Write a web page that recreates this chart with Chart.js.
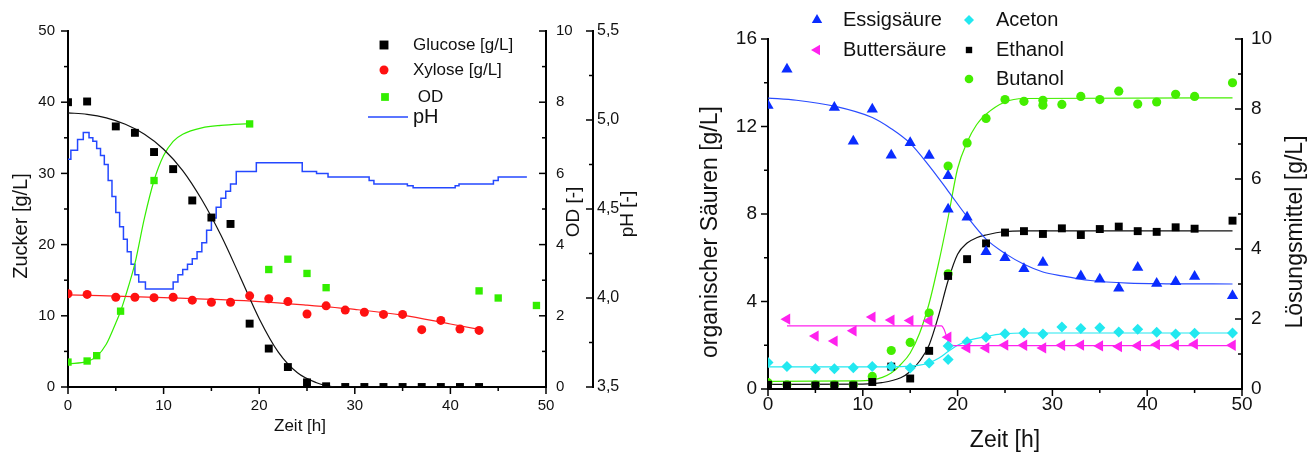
<!DOCTYPE html>
<html>
<head>
<meta charset="utf-8">
<script src="https://cdn.jsdelivr.net/npm/chart.js@4.4.0/dist/chart.umd.min.js"></script>
<style>
  body { margin: 0; background: #fff; }
  .box { position: absolute; top: 0; height: 455px; }
</style>
</head>
<body>
<div class="box" style="left:0;width:650px"><canvas id="zucker"></canvas></div>
<div class="box" style="left:660px;width:649px"><canvas id="produkte"></canvas></div>
<script>
// ---- left chart: Zucker / OD / pH ----
var glucT = [0, 2, 5, 7, 9, 11, 13, 15, 17, 19, 21, 23, 25, 27, 29, 31, 33, 35, 37, 39, 41, 43];
var glucV = [40.0, 40.1, 36.6, 35.7, 33.0, 30.6, 26.2, 23.8, 22.9, 8.9, 5.4, 2.8, 0.65, 0.1, 0, 0, 0, 0, 0, 0, 0, 0];
var glucFitT = [0, 2, 4, 6, 8, 10, 12, 14, 16, 18, 20, 22, 24, 26, 27, 28, 43];
var glucFitV = [38.5, 38.3, 37.8, 36.9, 35.5, 33.4, 30.4, 26.3, 21.3, 15.5, 9.6, 4.9, 2.0, 0.6, 0.2, 0, 0];

var xylT = [0, 2, 5, 7, 9, 11, 13, 15, 17, 19, 21, 23, 25, 27, 29, 31, 33, 35, 37, 39, 41, 43];
var xylV = [13.1, 13.0, 12.6, 12.6, 12.55, 12.6, 12.2, 11.9, 11.9, 12.8, 12.4, 12.0, 10.25, 11.4, 10.8, 10.5, 10.2, 10.2, 8.05, 9.35, 8.15, 7.95];
var xylFitT = [0, 10, 20, 25, 30, 35, 40, 43];
var xylFitV = [12.95, 12.55, 12.0, 11.5, 10.9, 10.1, 8.85, 8.1];

var odT = [0, 2, 3, 5.5, 9, 19, 21, 23, 25, 27, 43, 45, 49];
var odV = [0.70, 0.73, 0.88, 2.13, 5.8, 7.39, 3.3, 3.59, 3.19, 2.79, 2.70, 2.5, 2.29];
var odFitT = [0, 2, 3, 4, 5, 5.5, 6, 7, 8, 9, 10, 11, 12, 14, 16, 19];
var odFitV = [0.65, 0.72, 0.86, 1.2, 1.8, 2.13, 2.54, 3.47, 4.75, 5.8, 6.5, 6.9, 7.1, 7.28, 7.35, 7.4];

var phT = [0, 0.3, 1.0, 1.6, 2.2, 2.6, 3.0, 3.4, 3.8, 4.2, 4.6, 5.0, 5.4, 5.8, 6.2, 6.6, 7.0, 7.4, 8.1,
  11.0, 11.5, 12.0, 12.5, 13.0, 13.5, 14.0, 14.5, 15.0, 15.5, 16.0, 16.5, 17.0, 17.6, 19.7,
  24.5, 26.0, 27.2, 31.5, 32.0, 35.5, 36.1, 40.5, 40.9, 44.5, 45.0, 48.0];
var phV = [4.78, 4.83, 4.89, 4.93, 4.90, 4.88, 4.84, 4.80, 4.75, 4.66, 4.57, 4.48, 4.40, 4.33, 4.26, 4.19, 4.13, 4.09, 4.05,
  4.09, 4.13, 4.16, 4.19, 4.22, 4.26, 4.31, 4.38, 4.45, 4.51, 4.56, 4.60, 4.64, 4.71, 4.76,
  4.71, 4.70, 4.68, 4.66, 4.64, 4.63, 4.62, 4.63, 4.64, 4.66, 4.68, 4.68];

// ---- right chart: Saeuren / Loesungsmittel ----
var essigT = [0, 2, 7, 9, 11, 13, 15, 17, 19, 19, 21, 23, 25, 27, 29, 33, 35, 37, 39, 41, 43, 45, 49];
var essigV = [12.96, 14.62, 12.87, 11.33, 12.79, 10.69, 11.26, 10.68, 9.75, 8.22, 7.85, 6.28, 6.0, 5.5, 5.78, 5.17, 5.02, 4.61, 5.55, 4.82, 4.9, 5.14, 4.26];
var essigFitT = [0, 3, 7, 11, 13, 15, 17, 19, 21, 23, 25, 27, 29, 31, 34, 38, 42, 49];
var essigFitV = [13.3, 13.2, 12.93, 12.41, 11.9, 11.23, 10.2, 9.05, 7.88, 6.85, 6.2, 5.7, 5.35, 5.17, 4.96, 4.84, 4.81, 4.8];

var butterT = [2, 5, 7, 9, 11, 13, 15, 17, 19, 21, 23, 25, 27, 29, 31, 33, 35, 37, 39, 41, 43, 45, 49];
var butterV = [3.19, 2.42, 2.19, 2.66, 3.29, 3.15, 3.13, 3.12, 2.37, 1.88, 1.88, 2.01, 2.0, 1.88, 2.0, 2.01, 1.97, 1.94, 1.98, 2.03, 2.01, 2.05, 2.0];
var butterFitT = [2, 18.3, 18.6, 19.0, 19.6, 49];
var butterFitV = [2.89, 2.89, 2.7, 2.2, 1.98, 1.98];

var acetonT = [0, 2, 5, 7, 9, 11, 13, 15, 17, 19, 19, 21, 23, 25, 27, 29, 31, 33, 35, 37, 39, 41, 43, 45, 49];
var acetonV = [0.76, 0.64, 0.58, 0.58, 0.61, 0.64, 0.64, 0.6, 0.74, 0.84, 1.23, 1.35, 1.48, 1.58, 1.6, 1.57, 1.77, 1.73, 1.75, 1.63, 1.71, 1.62, 1.57, 1.59, 1.6];
var acetonFitT = [0, 5, 10, 14, 16, 17, 18, 19, 20, 21, 23, 25, 27, 49];
var acetonFitV = [0.63, 0.63, 0.63, 0.64, 0.68, 0.75, 0.88, 1.07, 1.25, 1.37, 1.5, 1.58, 1.6, 1.6];

var ethanolT = [0, 2, 5, 7, 9, 11, 13, 15, 17, 19, 21, 23, 25, 27, 29, 31, 33, 35, 37, 39, 41, 43, 45, 49];
var ethanolV = [0.12, 0.1, 0.1, 0.1, 0.1, 0.2, 0.64, 0.3, 1.09, 3.23, 3.71, 4.16, 4.47, 4.51, 4.43, 4.59, 4.4, 4.57, 4.64, 4.51, 4.49, 4.62, 4.58, 4.81];
var ethanolFitT = [0, 10, 12, 14, 15, 16, 17, 18, 19, 20, 21, 22, 23, 25, 27, 49];
var ethanolFitV = [0.13, 0.14, 0.18, 0.32, 0.5, 0.8, 1.26, 2.1, 3.1, 3.85, 4.17, 4.32, 4.4, 4.5, 4.52, 4.52];

var butanolT = [0, 2, 5, 7, 9, 11, 13, 15, 17, 19, 19, 21, 23, 25, 27, 29, 29, 31, 33, 35, 37, 39, 41, 43, 45, 49];
var butanolV = [0.18, 0.12, 0.12, 0.12, 0.12, 0.36, 1.1, 1.33, 2.17, 3.29, 6.37, 7.03, 7.73, 8.27, 8.22, 8.25, 8.11, 8.13, 8.36, 8.27, 8.51, 8.14, 8.2, 8.42, 8.36, 8.75];
var butanolFitT = [0, 9, 11, 13, 14, 15, 16, 17, 18, 19, 20, 21, 22, 23, 25, 27, 49];
var butanolFitV = [0.22, 0.23, 0.26, 0.46, 0.7, 1.03, 1.6, 2.45, 3.6, 4.9, 6.3, 7.05, 7.55, 7.85, 8.2, 8.3, 8.32];

var FONT = '"Liberation Sans", Arial, sans-serif';
Chart.defaults.font.family = FONT;
Chart.defaults.color = '#111';

function pts(xs, ys) {
  return xs.map(function (x, i) { return { x: x, y: ys[i] }; });
}

function marks(label, xs, ys, axis, style, r, color, rot) {
  return {
    label: label, data: pts(xs, ys), yAxisID: axis, clip: 0,
    pointStyle: style, pointRadius: r, pointRotation: rot || 0,
    backgroundColor: color, borderColor: color, borderWidth: 0, pointBorderWidth: 0
  };
}

function fit(xs, ys, axis, color, w) {
  return {
    data: pts(xs, ys), yAxisID: axis, showLine: true, clip: 0,
    pointRadius: 0, borderColor: color, borderWidth: w || 1.2,
    cubicInterpolationMode: 'monotone'
  };
}

function drawMark(ctx, style, x, y, r, color, rot) {
  ctx.save();
  ctx.fillStyle = color;
  ctx.translate(x, y);
  ctx.rotate((rot || 0) * Math.PI / 180);
  ctx.beginPath();
  if (style === 'circle') {
    ctx.arc(0, 0, r, 0, Math.PI * 2);
  } else if (style === 'rect') {
    var s = r * Math.SQRT1_2;
    ctx.rect(-s, -s, 2 * s, 2 * s);
  } else if (style === 'rectRot') {
    ctx.moveTo(0, -r); ctx.lineTo(r, 0); ctx.lineTo(0, r); ctx.lineTo(-r, 0); ctx.closePath();
  } else {
    ctx.moveTo(0, -r); ctx.lineTo(r * 0.866, r / 2); ctx.lineTo(-r * 0.866, r / 2); ctx.closePath();
  }
  ctx.fill();
  ctx.restore();
}

// tick marks: all vertical axes point left, x axis points down, minor ticks half way
var tickMarks = {
  id: 'tickMarks',
  afterDraw: function (chart) {
    var ctx = chart.ctx;
    ctx.save();
    ctx.strokeStyle = '#000';
    ctx.lineWidth = 1.5;
    Object.values(chart.scales).forEach(function (s) {
      var vals = s.ticks.map(function (t) { return t.value; });
      vals.forEach(function (v, i) {
        var list = [[v, 7]];
        if (i < vals.length - 1) list.push([(v + vals[i + 1]) / 2, 4]);
        list.forEach(function (m) {
          var p = s.getPixelForValue(m[0]);
          ctx.beginPath();
          if (s.isHorizontal()) {
            ctx.moveTo(p, s.top); ctx.lineTo(p, s.top + m[1]);
          } else {
            var ax = s.position === 'left' ? s.right : s.left;
            ctx.moveTo(ax - m[1], p); ctx.lineTo(ax, p);
          }
          ctx.stroke();
        });
      });
    });
    ctx.restore();
  }
};

function extras(titles, keys) {
  return {
    id: 'extras',
    afterDraw: function (chart) {
      var ctx = chart.ctx;
      titles.forEach(function (t) {
        ctx.save();
        ctx.translate(t.x, t.y);
        ctx.rotate(t.rot ? -Math.PI / 2 : 0);
        ctx.font = t.size + 'px ' + FONT;
        ctx.fillStyle = '#111';
        ctx.textAlign = 'center';
        ctx.textBaseline = 'middle';
        ctx.fillText(t.text, 0, 0);
        ctx.restore();
      });
      keys.forEach(function (k) {
        if (k.line) {
          ctx.save();
          ctx.strokeStyle = k.color;
          ctx.lineWidth = 1.5;
          ctx.beginPath();
          ctx.moveTo(k.line[0], k.y); ctx.lineTo(k.line[1], k.y);
          ctx.stroke();
          ctx.restore();
        } else {
          drawMark(ctx, k.style, k.mx, k.y, k.r, k.color, k.rot);
        }
        ctx.save();
        ctx.font = k.size + 'px ' + FONT;
        ctx.fillStyle = '#111';
        ctx.textAlign = 'left';
        ctx.textBaseline = 'middle';
        ctx.fillText(k.text, k.x, k.y);
        ctx.restore();
      });
    }
  };
}

function axis(pos, min, max, step, size, pad, fitSize, fmt) {
  var a = {
    type: 'linear', position: pos, min: min, max: max,
    ticks: { stepSize: step, font: { size: size }, color: '#111', padding: pad },
    grid: { display: false, drawTicks: false },
    border: { display: true, color: '#000', width: 2 },
    afterFit: function (s) {
      if (pos === 'bottom') s.height = fitSize; else s.width = fitSize;
    }
  };
  if (fmt) a.ticks.callback = fmt;
  return a;
}

var GREEN = '#33ee00';

new Chart(document.getElementById('zucker'), {
  type: 'scatter',
  data: {
    datasets: [
      marks('Glucose [g/L]', glucT, glucV, 'y', 'rect', 5.6, '#000'),
      marks('Xylose [g/L]', xylT, xylV, 'y', 'circle', 4.5, '#ff1111'),
      marks('OD', odT, odV, 'od', 'rect', 5.2, GREEN),
      fit(glucFitT, glucFitV, 'y', '#111'),
      fit(xylFitT, xylFitV, 'y', '#ff2222'),
      fit(odFitT, odFitV, 'od', GREEN),
      {
        label: 'pH', data: pts(phT, phV), yAxisID: 'ph', showLine: true, stepped: true,
        pointRadius: 0, borderColor: '#2448ff', borderWidth: 1.5, clip: 0
      }
    ]
  },
  options: {
    responsive: true, maintainAspectRatio: false, animation: false, devicePixelRatio: 1,
    layout: { padding: { top: 31, bottom: 17, left: 0, right: 0 } },
    plugins: { legend: { display: false }, tooltip: { enabled: false } },
    scales: {
      x: axis('bottom', 0, 50, 10, 15, 10, 51),
      y: axis('left', 0, 50, 10, 15, 13, 68),
      od: axis('right', 0, 10, 2, 15, 10, 47),
      ph: axis('right', 3.5, 5.5, 0.5, 16, 4, 57, function (v) { return v.toFixed(1).replace('.', ','); })
    }
  },
  plugins: [tickMarks, extras([
    { text: 'Zucker [g/L]', x: 21, y: 226, rot: true, size: 20 },
    { text: 'Zeit [h]', x: 300, y: 426, size: 17 },
    { text: 'OD [-]', x: 574, y: 212, rot: true, size: 19 },
    { text: 'pH [-]', x: 628, y: 214, rot: true, size: 19 }
  ], [
    { text: 'Glucose [g/L]', x: 413, y: 45, mx: 384, style: 'rect', r: 6.3, color: '#000', size: 17 },
    { text: 'Xylose [g/L]', x: 413, y: 70, mx: 384, style: 'circle', r: 4.5, color: '#ff1111', size: 17 },
    { text: ' OD', x: 413, y: 97, mx: 385, style: 'rect', r: 5.5, color: GREEN, size: 17 },
    { text: 'pH', x: 413, y: 117, line: [368, 408], color: '#2448ff', size: 20 }
  ])]
});

var BLUE = '#0a2cff', MAG = '#ff22ee', CYAN = '#22e8f0', LGREEN = '#44ee00';

new Chart(document.getElementById('produkte'), {
  type: 'scatter',
  data: {
    datasets: [
      marks('Essigsäure', essigT, essigV, 'y', 'triangle', 6.5, BLUE),
      marks('Buttersäure', butterT, butterV, 'y', 'triangle', 6.5, MAG, -90),
      marks('Aceton', acetonT, acetonV, 'y2', 'rectRot', 5.5, CYAN),
      marks('Ethanol', ethanolT, ethanolV, 'y2', 'rect', 5.6, '#000'),
      marks('Butanol', butanolT, butanolV, 'y2', 'circle', 4.6, LGREEN),
      fit(essigFitT, essigFitV, 'y', '#2a4cff'),
      fit(butterFitT, butterFitV, 'y', MAG),
      fit(acetonFitT, acetonFitV, 'y2', CYAN),
      fit(ethanolFitT, ethanolFitV, 'y2', '#111'),
      fit(butanolFitT, butanolFitV, 'y2', LGREEN)
    ]
  },
  options: {
    responsive: true, maintainAspectRatio: false, animation: false, devicePixelRatio: 1,
    layout: { padding: { top: 39, bottom: 0, left: 0, right: 0 } },
    plugins: { legend: { display: false }, tooltip: { enabled: false } },
    scales: {
      x: axis('bottom', 0, 50, 10, 19, 4, 66),
      y: axis('left', 0, 16, 4, 19, 11, 108),
      y2: axis('right', 0, 10, 2, 19, 9, 67)
    }
  },
  plugins: [tickMarks, extras([
    { text: 'organischer Säuren [g/L]', x: 51, y: 232, rot: true, size: 23 },
    { text: 'Zeit [h]', x: 345, y: 441, size: 23 },
    { text: 'Lösungsmittel [g/L]', x: 636, y: 232, rot: true, size: 23 }
  ], [
    { text: 'Essigsäure', x: 183, y: 20, mx: 157, style: 'triangle', r: 6, color: BLUE, size: 20 },
    { text: 'Buttersäure', x: 183, y: 50, mx: 157, style: 'triangle', r: 6, color: MAG, rot: -90, size: 20 },
    { text: 'Aceton', x: 336, y: 20, mx: 309, style: 'rectRot', r: 5, color: CYAN, size: 20 },
    { text: 'Ethanol', x: 336, y: 50, mx: 309, style: 'rect', r: 4.5, color: '#000', size: 20 },
    { text: 'Butanol', x: 336, y: 79, mx: 309, style: 'circle', r: 4.3, color: LGREEN, size: 20 }
  ])]
});
</script>
</body>
</html>
